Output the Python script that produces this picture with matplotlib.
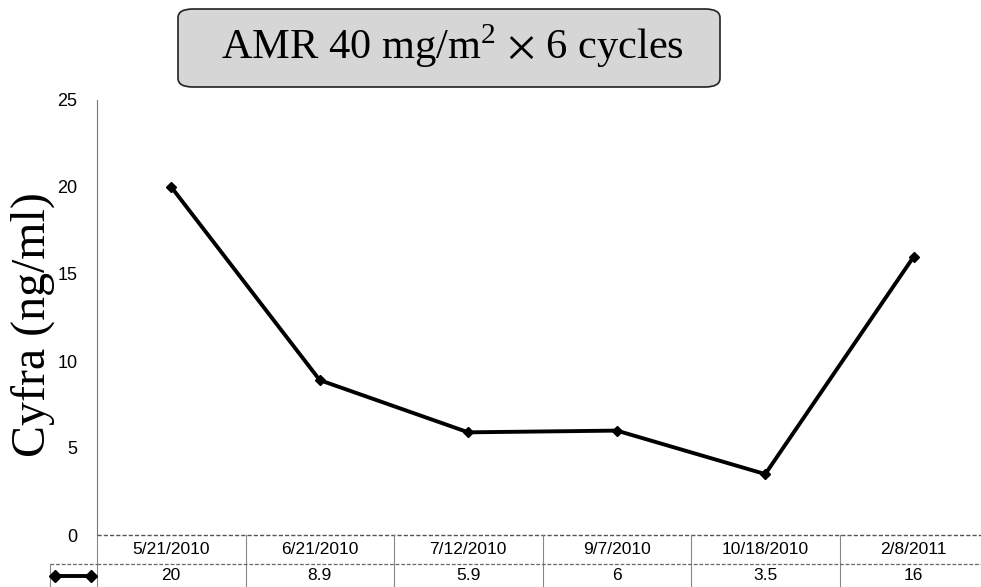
import numpy as np
import matplotlib.pyplot as plt
from matplotlib.patches import FancyBboxPatch
import matplotlib.transforms as mtransforms

# Data
dates = ["5/21/2010", "6/21/2010", "7/12/2010", "9/7/2010", "10/18/2010", "2/8/2011"]
cyfra = [20, 8.9, 5.9, 6, 3.5, 16]
cyfra_labels = ["20", "8.9", "5.9", "6", "3.5", "16"]
yticks = [0, 5, 10, 15, 20, 25]

W, H = 981, 587
fig = plt.figure(figsize=(W / 100, H / 100), dpi=100)

# axes box in pixel coords (left, bottom from top)
ax_left, ax_top, ax_bottom = 97, 100, 535
col_w = 148.5
ax = fig.add_axes([ax_left / W, (H - ax_bottom) / H,
                   6 * col_w / W, (ax_bottom - ax_top) / H])

x = np.arange(len(dates))
ax.plot(x, cyfra, color="black", lw=2.8, marker="D", ms=5.5, mfc="black")
ax.set_xlim(-0.5, 5.5)
ax.set_ylim(0, 25)
ax.set_yticks(yticks)
ax.set_yticklabels([str(v) for v in yticks], fontsize=13,
                   family="Liberation Sans")
ax.tick_params(axis="y", length=0, pad=14)
ax.set_xticks([])

for s in ["top", "right", "bottom"]:
    ax.spines[s].set_visible(False)
ax.spines["left"].set_color("#777777")
ax.spines["left"].set_linewidth(0.8)

# zero line (dashed)
ax.axhline(0, color="#555555", lw=1.0, ls=(0, (3, 1.5)), clip_on=False)

# data table below the axis
trans = mtransforms.blended_transform_factory(ax.transData, ax.transAxes)
ax_h = ax_bottom - ax_top
row1 = -(564 - ax_bottom) / ax_h
row2 = -(H - ax_bottom) / ax_h
for i in range(len(dates) + 1):
    ax.plot([i - 0.5, i - 0.5], [0, row2], transform=trans, color="#888888",
            lw=0.8, clip_on=False)
ax.plot([-0.5, 5.5], [row1, row1], transform=trans, color="#666666",
        lw=0.9, ls=(0, (3, 1.5)), clip_on=False)
for i, (d, v) in enumerate(zip(dates, cyfra_labels)):
    ax.text(i, row1 / 2, d, transform=trans, ha="center", va="center",
            fontsize=12.5, family="Liberation Sans")
    ax.text(i, (row1 + row2) / 2, v, transform=trans, ha="center", va="center",
            fontsize=12.5, family="Liberation Sans")

# legend cell on the left of the values row
lx0, lx1 = 50 / W, ax_left / W
ly_top = (H - 564) / H
fig.add_artist(plt.Line2D([lx0, lx1], [ly_top, ly_top], color="#666666",
                          lw=0.9, ls=(0, (3, 1.5))))
fig.add_artist(plt.Line2D([lx0, lx0], [ly_top, 0], color="#888888", lw=0.8))
ly = (H - 576) / H
fig.add_artist(plt.Line2D([55 / W, 91 / W], [ly, ly], color="black", lw=2.8,
                          marker="D", ms=6))

# y label
fig.text(33 / W, (H - 325) / H, "Cyfra (ng/ml)", rotation=90, ha="center",
         va="center", fontsize=34.5, family="Liberation Serif")

# title box
box = FancyBboxPatch((178 / W, (H - 87) / H), 542 / W, 78 / H,
                     boxstyle="round,pad=0,rounding_size=0.015",
                     transform=fig.transFigure, facecolor="#d6d6d6",
                     edgecolor="#222222", lw=1.2)
fig.add_artist(box)
fig.text(452 / W, (H - 46) / H, r"AMR 40 mg/m$^{\mathregular{2}}$ $\times$ 6 cycles",
         ha="center", va="center", fontsize=30.5, family="Liberation Serif",
         math_fontfamily="stix")

fig.savefig("out.png", dpi=100)
